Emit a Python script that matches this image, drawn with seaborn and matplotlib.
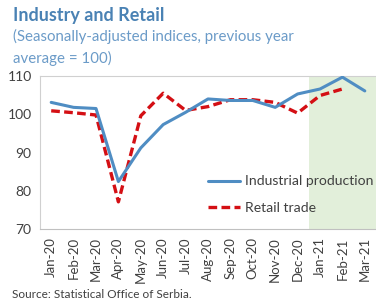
import matplotlib
matplotlib.use("Agg")
import matplotlib.pyplot as plt
import seaborn as sns
import pandas as pd
import numpy as np

months = ["Jan-20", "Feb-20", "Mar-20", "Apr-20", "May-20", "Jun-20", "Jul-20",
          "Aug-20", "Sep-20", "Oct-20", "Nov-20", "Dec-20", "Jan-21", "Feb-21", "Mar-21"]
industrial = [103.1, 101.8, 101.5, 82.4, 91.2, 97.3, 100.5, 104.0, 103.6, 103.6,
              101.8, 105.3, 106.6, 109.7, 106.1]
retail = [100.9, 100.4, 99.8, 77.1, 99.6, 105.5, 101.0, 102.0, 103.8, 103.8,
          103.1, 100.3, 104.9, 106.6, np.nan]
yticks = [70, 80, 90, 100, 110]

sns.set_theme(style="white")
plt.rcParams['font.family'] = ['Lato', 'DejaVu Sans']

df = pd.DataFrame({"pos": np.arange(len(months)), "month": months,
                   "Industrial production": industrial, "Retail trade": retail})

fig = plt.figure(figsize=(3.76, 3.06), dpi=100)
ax = fig.add_axes([40/376, (306-229)/306, 336/376, 153/306])

ax.axvspan(11.5, 15, color="#e2efda", zorder=0, lw=0)

sns.lineplot(data=df, x="pos", y="Industrial production", ax=ax, color="#4f8dc3",
             lw=2.2, label="Industrial production", zorder=3)
sns.lineplot(data=df.dropna(), x="pos", y="Retail trade", ax=ax, color="#d40f14",
             lw=2.4, label="Retail trade", zorder=2)
ax.lines[-1].set_dashes((2.6, 1.3))

ax.set_xlim(-0.5, 14.37)
ax.set_ylim(70, 110)
ax.set_yticks(yticks)
ax.set_yticklabels([str(t) for t in yticks], fontsize=10, color="#404040")
ax.set_xticks(np.arange(len(months)))
ax.set_xticklabels(months, rotation=90, fontsize=9.5, color="#404040")
ax.set_xticks(np.arange(len(months) + 1) - 0.5, minor=True)
ax.tick_params(axis="x", which="major", length=0, pad=6)
ax.tick_params(axis="x", which="minor", length=3, color="#c0c0c0", width=0.8, direction="out")
ax.tick_params(axis="y", length=3, color="#c0c0c0", width=0.8, direction="in", pad=6)
ax.set_xlabel("")
ax.set_ylabel("")
for s in ax.spines.values():
    s.set_color("#d0d0d0")
    s.set_linewidth(0.8)
ax.spines["right"].set_visible(False)
ax.spines["bottom"].set_color("#c0c0c0")

leg = ax.legend(loc="lower right", bbox_to_anchor=(1.01, 0.06), frameon=False,
                fontsize=10.1, handlelength=2.3, handletextpad=0.35, labelspacing=1.05,
                borderaxespad=0)
for t in leg.get_texts():
    t.set_color("#404040")

fig.text(13/376, 1 - 16/306, "Industry and Retail", fontsize=13, fontweight="bold",
         color="#4a82b4", va="center", ha="left")
fig.text(13/376, 1 - 36/306, "(Seasonally-adjusted indices, previous year", fontsize=10.8,
         color="#6b9bc8", va="center", ha="left")
fig.text(13/376, 1 - 58/306, "average = 100)", fontsize=10.8,
         color="#6b9bc8", va="center", ha="left")
fig.text(12/376, 1 - 295/306, "Source: Statistical Office of Serbia.", fontsize=8.5,
         color="#404040", va="center", ha="left")

fig.savefig("out.png", dpi=100)
